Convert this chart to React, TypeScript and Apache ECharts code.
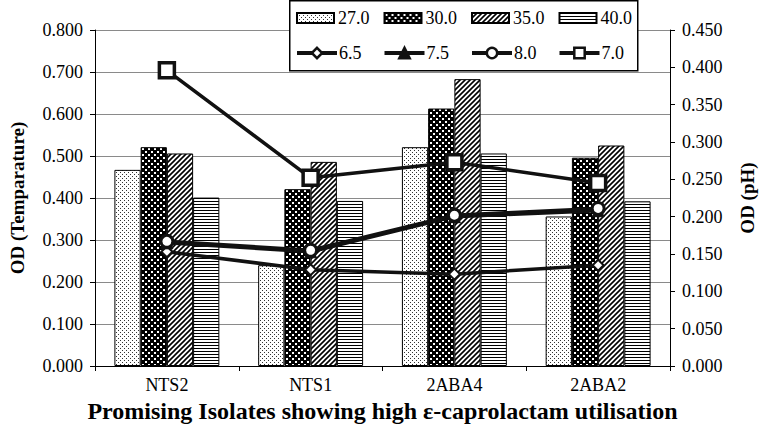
import React, { useEffect, useRef } from "react";
import * as echarts from "echarts";

const categories = ["NTS2", "NTS1", "2ABA4", "2ABA2"];
const tempNames = ["27.0", "30.0", "35.0", "40.0"];
const temp27 = [0.467, 0.24, 0.521, 0.356];
const temp30 = [0.521, 0.421, 0.613, 0.496];
const temp35 = [0.506, 0.486, 0.683, 0.525];
const temp40 = [0.401, 0.393, 0.506, 0.392];
const phNames = ["6.5", "7.5", "8.0", "7.0"];
const ph65 = [0.153, 0.129, 0.123, 0.135];
const ph75 = [0.165, 0.153, 0.2, 0.208];
const ph80 = [0.167, 0.155, 0.202, 0.211];
const ph70 = [0.396, 0.252, 0.273, 0.245];
const leftTicks = { min: 0, max: 0.8, interval: 0.1 };
const rightTicks = { min: 0, max: 0.45, interval: 0.05 };

const FONT = '"Liberation Serif", "Times New Roman", serif';
const INK = "#111";

function makePattern(kind: string) {
  const c = document.createElement("canvas");
  let w = 4, h = 4;
  if (kind === "p27") { w = 4; h = 4; }
  if (kind === "p30") { w = 6; h = 6; }
  if (kind === "p35") { w = 5; h = 5; }
  if (kind === "p40") { w = 4; h = 3; }
  c.width = w; c.height = h;
  const g = c.getContext("2d")!;
  g.fillStyle = "#fff";
  g.fillRect(0, 0, w, h);
  if (kind === "p27") {
    g.fillStyle = "#333";
    g.fillRect(0, 0, 1, 1);
    g.fillRect(2, 2, 1, 1);
  } else if (kind === "p30") {
    g.fillStyle = "#000";
    g.fillRect(0, 0, w, h);
    g.fillStyle = "#fff";
    g.fillRect(1, 1, 2, 2);
    g.fillRect(4, 4, 2, 2);
  } else if (kind === "p35") {
    g.strokeStyle = "#000";
    g.lineWidth = 1.6;
    g.beginPath();
    g.moveTo(-1, 6); g.lineTo(6, -1);
    g.moveTo(-2, 2); g.lineTo(2, -2);
    g.moveTo(3, 7); g.lineTo(7, 3);
    g.stroke();
  } else if (kind === "p40") {
    g.fillStyle = "#000";
    g.fillRect(0, 0, w, 1);
  }
  return { image: c, repeat: "repeat", imageWidth: w, imageHeight: h } as any;
}

export default function App() {
  const ref = useRef<HTMLDivElement>(null);
  useEffect(() => {
    const chart = echarts.init(ref.current!, null, { renderer: "svg" });
    const pats = [makePattern("p27"), makePattern("p30"), makePattern("p35"), makePattern("p40")];
    const barData = [temp27, temp30, temp35, temp40];
    const barSeries = tempNames.map((n, i) => ({
      name: n,
      type: "bar",
      yAxisIndex: 0,
      data: barData[i],
      barGap: "0%",
      barCategoryGap: "27%",
      itemStyle: { color: pats[i], borderColor: "#000", borderWidth: 1 },
      emphasis: { disabled: true },
      z: 2,
    }));
    const lineData = [ph65, ph75, ph80, ph70];
    const lineCfg = [
      { symbol: "diamond", size: 11, fill: "#fff", bw: 2, lw: 3.5 },
      { symbol: "triangle", size: 12, fill: INK, bw: 1, lw: 3.5 },
      { symbol: "circle", size: 12, fill: "#fff", bw: 3, lw: 3.5 },
      { symbol: "rect", size: 15, fill: "#fff", bw: 3.5, lw: 3.5 },
    ];
    const lineSeries = phNames.map((n, i) => ({
      name: n,
      type: "line",
      yAxisIndex: 1,
      data: lineData[i],
      symbol: lineCfg[i].symbol,
      symbolSize: lineCfg[i].size,
      showAllSymbol: true,
      itemStyle: { color: lineCfg[i].fill, borderColor: INK, borderWidth: lineCfg[i].bw },
      lineStyle: { color: INK, width: lineCfg[i].lw },
      emphasis: { disabled: true },
      z: 5 + i,
    }));
    const axisLabel = {
      fontFamily: FONT,
      fontSize: 18,
      color: "#000",
      margin: 12,
      formatter: (v: number) => v.toFixed(3),
    };
    const nameStyle = { fontFamily: FONT, fontSize: 19, fontWeight: "bold", color: "#000" };
    const option: any = {
      animation: false,
      backgroundColor: "#fff",
      textStyle: { fontFamily: FONT },
      grid: { left: 88, right: 85, top: 30, bottom: 65, containLabel: false },
      legend: [
        {
          data: tempNames,
          left: 296,
          top: 9,
          padding: 0,
          itemWidth: 37,
          itemHeight: 10,
          itemGap: 14,
          icon: "rect",
          textStyle: { fontFamily: FONT, fontSize: 18, color: "#000", padding: [0, 0, 0, -1] },
          selectedMode: false,
          z: 10,
        },
        {
          data: phNames.map((n) => ({ name: n, lineStyle: { width: 4, color: INK } })),
          left: 295,
          top: 44,
          padding: 0,
          itemWidth: 40,
          itemHeight: 13,
          itemGap: 21,
          lineStyle: { width: 4, color: INK },
          itemStyle: { borderWidth: 2.5, borderColor: INK },
          textStyle: { fontFamily: FONT, fontSize: 18, color: "#000", padding: [0, 0, 0, -3] },
          selectedMode: false,
          z: 10,
        },
      ],
      graphic: [
        {
          type: "rect",
          left: 289,
          top: 0,
          z: 8,
          shape: { width: 348, height: 70 },
          style: { fill: "#fff", stroke: "#000", lineWidth: 1.5 },
        },
      ],
      xAxis: {
        type: "category",
        data: categories,
        name: "Promising Isolates showing high \u03b5-caprolactam utilisation",
        nameLocation: "middle",
        nameGap: 33,
        nameTextStyle: { ...nameStyle, fontSize: 24 },
        axisLine: { lineStyle: { color: "#000", width: 1 } },
        axisTick: { show: true, length: 5, lineStyle: { color: "#000" } },
        axisLabel: { fontFamily: FONT, fontSize: 18, color: "#000", margin: 10 },
      },
      yAxis: [
        {
          type: "value",
          ...leftTicks,
          name: "OD (Temparature)",
          nameLocation: "middle",
          nameRotate: 90,
          nameGap: 68,
          nameTextStyle: nameStyle,
          axisLine: { show: true, lineStyle: { color: "#000", width: 1 } },
          axisTick: { show: true, length: 5, lineStyle: { color: "#000" } },
          axisLabel,
          splitLine: { show: true, lineStyle: { color: "#8a8a8a", width: 1 } },
        },
        {
          type: "value",
          position: "right",
          ...rightTicks,
          name: "OD (pH)",
          nameLocation: "middle",
          nameRotate: 90,
          nameGap: 68,
          nameTextStyle: nameStyle,
          axisLine: { show: true, lineStyle: { color: "#000", width: 1 } },
          axisTick: { show: true, length: 5, lineStyle: { color: "#000" } },
          axisLabel,
          splitLine: { show: false },
        },
      ],
      series: [...barSeries, ...lineSeries],
    };
    chart.setOption(option);
    return () => chart.dispose();
  }, []);
  return (
    <div
      ref={ref}
      style={{ position: "absolute", left: 0, top: 0, width: 765, height: 431, background: "#fff" }}
    />
  );
}
